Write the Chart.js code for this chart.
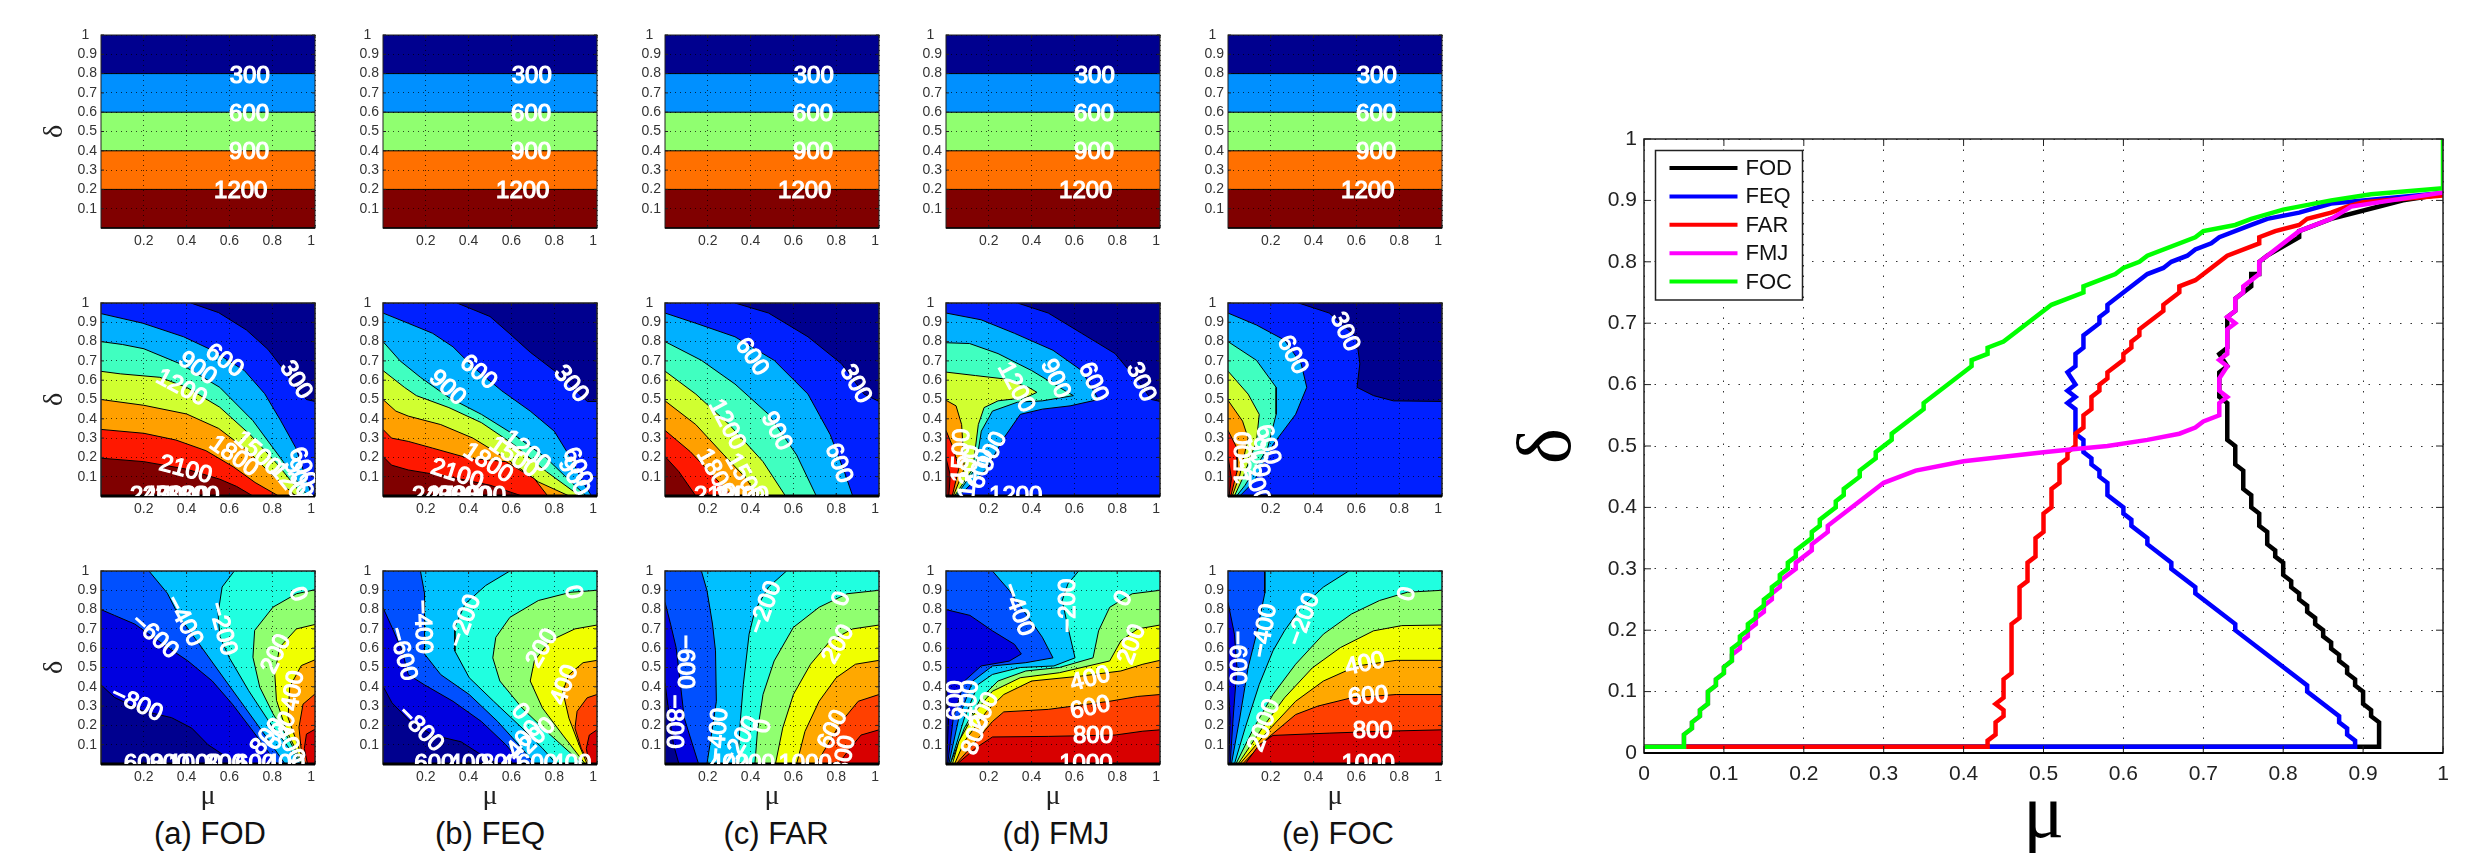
<!DOCTYPE html>
<html>
<head>
<meta charset="utf-8">
<script src="https://cdn.jsdelivr.net/npm/chart.js@4"></script>
<style>
  html, body { margin: 0; background: #fff; overflow: hidden; width: 2483px; height: 855px; }
  canvas { position: absolute; }
  .cap { position: absolute; top: 814px; width: 200px; text-align: center; font: 31px/40px "Liberation Sans"; color: #111; }
</style>
</head>
<body>
<script>
// ---------- tradeoff curves (right plot) ----------
const seriesNames = ["FOD", "FEQ", "FAR", "FMJ", "FOC"];
const seriesColors = ["#000000", "#0000ff", "#ff0000", "#ff00ff", "#00ff00"];
const mainTicks = [0, .1, .2, .3, .4, .5, .6, .7, .8, .9, 1];

const FOD = [[0,.01],[.92,.01],[.92,.05],[.91,.06],[.91,.07],[.90,.08],[.90,.10],[.89,.11],[.89,.12],[.88,.13],[.88,.14],[.87,.15],[.87,.16],[.86,.17],[.86,.18],[.85,.19],[.85,.20],[.84,.21],[.84,.22],[.83,.23],[.83,.24],[.82,.25],[.82,.26],[.81,.27],[.81,.28],[.80,.29],[.80,.31],[.79,.32],[.79,.33],[.78,.34],[.78,.36],[.77,.37],[.77,.39],[.76,.40],[.76,.42],[.75,.43],[.75,.46],[.74,.47],[.74,.50],[.73,.51],[.73,.57],[.72,.58],[.72,.62],[.73,.63],[.72,.65],[.73,.66],[.73,.71],[.74,.72],[.74,.74],[.76,.76],[.76,.78],[.77,.78],[.77,.80],[.78,.81],[.82,.84],[.82,.85],[.86,.87],[.92,.89],[.95,.90],[1,.91]];
const FEQ = [[0,.01],[.89,.01],[.89,.02],[.88,.03],[.88,.04],[.87,.05],[.87,.06],[.83,.10],[.83,.11],[.74,.20],[.74,.21],[.69,.26],[.69,.27],[.66,.30],[.66,.31],[.63,.34],[.63,.35],[.61,.37],[.61,.38],[.60,.39],[.60,.40],[.58,.42],[.58,.44],[.57,.45],[.57,.46],[.56,.47],[.56,.48],[.55,.49],[.55,.51],[.54,.52],[.54,.56],[.53,.57],[.54,.58],[.53,.59],[.54,.60],[.53,.62],[.54,.63],[.54,.65],[.55,.66],[.55,.68],[.57,.70],[.57,.71],[.58,.72],[.58,.73],[.63,.78],[.65,.79],[.66,.80],[.68,.81],[.69,.82],[.71,.83],[.72,.84],[.76,.86],[.78,.87],[.82,.88],[.86,.895],[.90,.90],[1,.912]];
const FAR = [[0,.01],[.43,.01],[.43,.02],[.44,.03],[.44,.05],[.45,.06],[.45,.07],[.44,.08],[.45,.09],[.45,.12],[.46,.13],[.46,.21],[.47,.22],[.47,.27],[.48,.28],[.48,.31],[.49,.32],[.49,.35],[.50,.36],[.50,.39],[.51,.40],[.51,.43],[.52,.44],[.52,.47],[.53,.48],[.53,.49],[.54,.50],[.54,.52],[.55,.53],[.55,.55],[.56,.56],[.56,.58],[.57,.59],[.57,.60],[.58,.61],[.58,.62],[.60,.64],[.60,.65],[.61,.66],[.61,.67],[.62,.68],[.62,.69],[.65,.72],[.65,.73],[.67,.75],[.67,.76],[.69,.77],[.73,.81],[.77,.83],[.77,.84],[.79,.85],[.82,.86],[.83,.87],[.86,.88],[.88,.89],[.90,.897],[1,.908]];
const FMJ = [[0,.01],[.05,.01],[.05,.03],[.06,.04],[.06,.05],[.07,.06],[.07,.07],[.08,.08],[.08,.10],[.09,.11],[.09,.12],[.10,.13],[.10,.14],[.11,.15],[.11,.16],[.12,.17],[.12,.18],[.13,.19],[.13,.20],[.14,.21],[.14,.22],[.15,.23],[.15,.24],[.16,.25],[.16,.26],[.17,.27],[.17,.28],[.19,.30],[.19,.31],[.21,.33],[.21,.34],[.23,.36],[.23,.37],[.30,.44],[.34,.46],[.40,.475],[.50,.49],[.54,.495],[.58,.50],[.63,.51],[.67,.52],[.69,.53],[.70,.54],[.72,.55],[.72,.57],[.73,.58],[.72,.59],[.72,.61],[.73,.63],[.72,.64],[.73,.65],[.73,.69],[.74,.70],[.73,.71],[.74,.72],[.74,.74],[.75,.75],[.75,.76],[.77,.78],[.77,.80],[.78,.81],[.82,.85],[.86,.87],[.885,.89],[.925,.898],[1,.913]];
const FOC = [[0,.01],[.05,.01],[.05,.03],[.06,.04],[.06,.05],[.07,.06],[.07,.07],[.08,.08],[.08,.10],[.09,.11],[.09,.12],[.10,.13],[.10,.14],[.11,.15],[.11,.17],[.12,.18],[.12,.19],[.13,.20],[.13,.21],[.14,.22],[.14,.23],[.15,.24],[.15,.25],[.16,.26],[.16,.27],[.17,.28],[.17,.29],[.18,.30],[.18,.31],[.19,.32],[.19,.33],[.21,.35],[.21,.36],[.22,.37],[.22,.38],[.24,.40],[.24,.41],[.25,.42],[.25,.43],[.27,.45],[.27,.46],[.29,.48],[.29,.49],[.31,.51],[.31,.52],[.35,.56],[.35,.57],[.41,.63],[.41,.64],[.43,.65],[.43,.66],[.45,.67],[.51,.73],[.55,.75],[.55,.76],[.59,.78],[.60,.79],[.62,.80],[.63,.81],[.69,.84],[.70,.85],[.74,.86],[.76,.87],[.80,.885],[.86,.90],[.91,.91],[1,.92],[1,1]];

// ---------- contour panels (left 3x5 grid) ----------
const smallXTicks = [.2, .4, .6, .8, 1];
const smallYTicks = [.1, .2, .3, .4, .5, .6, .7, .8, .9, 1];
const panelNames = ["(a) FOD", "(b) FEQ", "(c) FAR", "(d) FMJ", "(e) FOC"];

// top row: all five panels are the same
const row1Base = "#00008f";
const row1Colors = ["#0090ff", "#90ff70", "#ff7000", "#800000"];
const row1Lines = [[[0,.8],[1,.8]], [[0,.6],[1,.6]], [[0,.4],[1,.4]], [[0,.2],[1,.2]]];
const row1Labels = [[.695,.785,"300",0],[.692,.59,"600",0],[.692,.39,"900",0],[.653,.188,"1200",0]];

// middle row
const row2Base = "#00008f";
const row2Colors = ["#0020ff", "#00b0ff", "#40ffc0", "#d0ff30", "#ffa000", "#ff1800", "#800000"];
const row2FOD = [
  [[.42,1],[.55,.95],[.68,.86],[.78,.76],[.85,.66],[.91,.56],[.96,.5],[1,.49]],
  [[0,.945],[.196,.895],[.386,.825],[.52,.755],[.67,.65],[.765,.53],[.84,.39],[.91,.25],[.965,.07],[.985,0]],
  [[0,.8],[.1,.785],[.2,.763],[.37,.685],[.555,.563],[.71,.39],[.85,.18],[.965,0]],
  [[0,.646],[.09,.633],[.275,.615],[.4,.563],[.555,.46],[.695,.32],[.82,.17],[.945,0]],
  [[0,.5],[.2,.47],[.4,.425],[.55,.35],[.68,.24],[.78,.13],[.91,0]],
  [[0,.345],[.2,.325],[.35,.29],[.49,.235],[.62,.15],[.72,.07],[.83,0]],
  [[0,.196],[.2,.178],[.4,.139],[.555,.087],[.633,.05],[.71,0]],
];
const row2FEQ = [
  [[.346,1],[.5,.93],[.593,.84],[.688,.745],[.8,.65],[.916,.53],[.955,.49],[1,.49]],
  [[0,.948],[.118,.895],[.232,.843],[.327,.773],[.422,.668],[.555,.545],[.688,.44],[.8,.336],[.878,.196],[.935,.07],[.975,0]],
  [[0,.8],[.08,.7],[.175,.615],[.308,.51],[.46,.423],[.612,.318],[.764,.196],[.878,.073],[.95,0]],
  [[0,.65],[.1,.563],[.156,.52],[.308,.458],[.46,.38],[.612,.266],[.764,.126],[.92,0]],
  [[0,.5],[.06,.44],[.118,.414],[.27,.37],[.42,.3],[.574,.196],[.726,.073],[.87,0]],
  [[0,.345],[.04,.3],[.118,.283],[.232,.248],[.4,.196],[.574,.178],[.707,.09],[.77,0]],
  [[0,.205],[.04,.16],[.118,.135],[.308,.1],[.5,.056],[.65,0]],
];
const row2FAR = [
  [[.327,1],[.484,.948],[.668,.825],[.825,.685],[.93,.528],[1,.49]],
  [[0,.948],[.144,.895],[.327,.825],[.51,.703],[.668,.528],[.772,.318],[.838,.126],[.877,0]],
  [[0,.8],[.17,.703],[.327,.58],[.484,.423],[.615,.213],[.707,0]],
  [[0,.647],[.144,.528],[.3,.37],[.458,.178],[.563,0]],
  [[0,.493],[.144,.37],[.275,.213],[.38,.09],[.432,0]],
  [[0,.34],[.118,.23],[.222,.108],[.314,0]],
  [[0,.205],[.065,.126],[.144,0]],
];
const row2FMJ = [
  [[.334,1],[.478,.948],[.634,.843],[.79,.738],[.908,.58],[.96,.5],[1,.49]],
  [[0,.948],[.164,.913],[.32,.843],[.5,.755],[.634,.65],[.713,.5],[.58,.467],[.45,.45],[.347,.423],[.27,.3],[.19,.14],[.06,0]],
  [[0,.794],[.11,.79],[.243,.738],[.4,.65],[.53,.563],[.595,.52],[.45,.493],[.334,.486],[.217,.44],[.165,.336],[.138,.143],[.047,0]],
  [[0,.642],[.138,.624],[.27,.607],[.386,.563],[.425,.537],[.373,.51],[.243,.493],[.178,.458],[.151,.37],[.125,.14],[.04,0]],
  [[0,.496],[.047,.467],[.073,.37],[.086,.143],[.034,0]],
  [[0,.34],[.034,.248],[.06,.143],[.029,0]],
  [[0,.196],[.02,.108],[.013,0]],
];
const row2FOC = [
  [[.33,1],[.473,.948],[.6,.825],[.616,.685],[.603,.563],[.68,.52],[.773,.493],[1,.49]],
  [[0,.948],[.133,.886],[.264,.808],[.342,.685],[.368,.563],[.316,.423],[.21,.266],[.12,.073],[.055,0]],
  [[0,.8],[.133,.703],[.225,.563],[.225,.423],[.185,.248],[.08,.056],[.04,0]],
  [[0,.647],[.094,.528],[.146,.423],[.133,.283],[.068,.09],[.03,0]],
  [[0,.496],[.068,.388],[.094,.3],[.055,.108],[.02,0]],
  [[0,.34],[.042,.248],[.042,.126],[.013,0]],
  [[0,.205],[.016,.09],[.005,0]],
];
const row2Labels = [
  [[.91,.6,"300",58],[.576,.7,"600",35],[.45,.66,"900",35],[.375,.56,"1200",28],[.73,.22,"1500",42],[.62,.205,"1800",35],[.395,.135,"2100",15],[.94,.15,"600",70],[.92,.09,"900",65],[.89,.05,"1200",50],[.26,0,"2400",0],[.32,0,"2700",0],[.38,0,"3000",0],[.43,0,"3300",0]],
  [[.878,.58,"300",50],[.445,.64,"600",40],[.3,.56,"900",42],[.67,.23,"1200",38],[.61,.2,"1500",35],[.49,.17,"1800",33],[.346,.11,"2100",18],[.907,.15,"600",65],[.89,.1,"900",60],[.26,0,"2400",0],[.33,0,"2700",0],[.38,0,"3000",0],[.45,0,"3300",0]],
  [[.89,.58,"300",60],[.405,.72,"600",55],[.52,.335,"900",62],[.288,.37,"1200",62],[.81,.17,"600",70],[.37,.09,"1500",60],[.235,.115,"1800",60],[.26,0,"2100",0],[.36,0,"2400",0]],
  [[.91,.59,"300",65],[.687,.59,"600",65],[.51,.607,"900",65],[.326,.563,"1200",62],[.326,0,"1200",0],[.073,.21,"1500",-88],[.217,.23,"900",-65],[.165,.14,"600",-75],[.11,.126,"1200",-85]],
  [[.545,.85,"300",65],[.3,.73,"600",62],[.076,.195,"1500",-90],[.185,.266,"600",75],[.14,.2,"900",80],[.12,.09,"1200",70]],
];

// bottom row
const row3Base = "#20ffe0";
const row3Colors = ["#00c0ff", "#0050ff", "#0000e0", "#00008f", "#90ff70", "#f0ff00", "#ffa800", "#ff4000", "#d80000"];
const row3FOD = [
  [[.623,1],[.566,.917],[.547,.78],[.556,.66],[.6,.55],[.69,.38],[.785,.22],[.88,.08],[.937,0]],
  [[.224,1],[.31,.885],[.367,.76],[.46,.62],[.538,.5],[.652,.325],[.766,.15],[.86,0]],
  [[0,.8],[.063,.77],[.158,.725],[.29,.62],[.405,.535],[.52,.43],[.614,.31],[.71,.17],[.823,0]],
  [[0,.41],[.063,.345],[.196,.275],[.33,.24],[.424,.186],[.5,.1],[.595,.03],[.67,0]],
  [[1,.903],[.913,.882],[.804,.813],[.718,.692],[.71,.553],[.742,.398],[.804,.26],[.882,.12],[.936,0]],
  [[1,.723],[.913,.7],[.835,.605],[.812,.467],[.82,.33],[.866,.174],[.944,0]],
  [[1,.54],[.936,.51],[.882,.4],[.874,.24],[.913,.12],[.95,0]],
  [[1,.363],[.944,.31],[.925,.19],[.936,.07],[.956,0]],
  [[1,.18],[.96,.155],[.95,.08],[.965,0]],
];
const row3FEQ = [
  [[.593,1],[.48,.925],[.384,.83],[.336,.71],[.336,.585],[.403,.447],[.517,.325],[.65,.186],[.745,.082],[.81,0]],
  [[.175,1],[.194,.885],[.194,.69],[.194,.57],[.27,.463],[.403,.36],[.536,.22],[.65,.08],[.707,0]],
  [[0,.81],[.042,.708],[.09,.585],[.118,.463],[.194,.41],[.327,.325],[.46,.22],[.574,.1],[.65,0]],
  [[0,.403],[.042,.317],[.118,.23],[.232,.15],[.365,.115],[.46,.047],[.536,0]],
  [[1,.9],[.878,.89],[.726,.847],[.593,.76],[.527,.656],[.513,.55],[.546,.43],[.65,.29],[.764,.169],[.869,.064],[.935,0]],
  [[1,.72],[.897,.7],[.783,.64],[.707,.534],[.688,.43],[.745,.29],[.84,.15],[.945,0]],
  [[1,.537],[.935,.525],[.869,.463],[.84,.376],[.869,.237],[.916,.1],[.954,0]],
  [[1,.36],[.954,.343],[.907,.273],[.897,.186],[.926,.082],[.964,0]],
  [[1,.177],[.964,.15],[.95,.08],[.964,0]],
];
const row3FAR = [
  [[.568,1],[.484,.917],[.42,.795],[.393,.673],[.366,.412],[.353,.238],[.34,0]],
  [[.17,1],[.196,.9],[.222,.725],[.236,.586],[.24,.325],[.21,.1],[.196,0]],
  [[0,.838],[.026,.725],[.052,.603],[.065,.482],[.09,.238],[.157,0]],
  [[0,.42],[.02,.25],[.04,.1],[.065,0]],
  [[1,.9],[.85,.882],[.72,.812],[.6,.708],[.51,.534],[.458,.36],[.432,.169],[.42,0]],
  [[1,.72],[.877,.7],[.772,.638],[.68,.517],[.6,.36],[.55,.186],[.516,0]],
  [[1,.537],[.89,.517],[.8,.447],[.72,.325],[.654,.169],[.615,0]],
  [[1,.36],[.903,.325],[.825,.22],[.76,.1],[.707,0]],
  [[1,.177],[.916,.15],[.864,.08],[.81,0]],
];
const row3FMJ = [
  [[.62,1],[.57,.934],[.543,.847],[.57,.708],[.603,.55],[.504,.508],[.347,.5],[.217,.464],[.15,.412],[.086,.238],[.02,0]],
  [[.217,1],[.295,.9],[.373,.778],[.45,.657],[.5,.55],[.373,.525],[.217,.508],[.125,.43],[.06,.238],[.013,0]],
  [[0,.8],[.112,.77],[.217,.69],[.32,.62],[.352,.57],[.295,.533],[.164,.508],[.086,.43],[.034,.238],[.008,0]],
  [[0,.42],[.012,.238],[.003,0]],
  [[1,.9],[.87,.882],[.765,.812],[.713,.69],[.687,.55],[.53,.5],[.373,.482],[.243,.43],[.164,.343],[.086,.186],[.02,0]],
  [[1,.72],[.896,.7],[.817,.638],[.765,.534],[.53,.473],[.347,.447],[.217,.377],[.138,.273],[.06,.117],[.03,0]],
  [[1,.537],[.92,.517],[.817,.482],[.634,.456],[.4,.43],[.27,.36],[.19,.273],[.086,.117],[.04,0]],
  [[1,.36],[.896,.35],[.765,.325],[.478,.283],[.27,.27],[.217,.22],[.112,.082],[.047,0]],
  [[1,.177],[.92,.17],[.79,.15],[.478,.143],[.217,.14],[.138,.082],[.052,0]],
];
const row3FOC = [
  [[.564,1],[.446,.917],[.342,.812],[.264,.69],[.21,.586],[.146,.412],[.08,.186],[.03,0]],
  [[.172,1],[.172,.885],[.133,.673],[.094,.5],[.055,.238],[.016,0]],
  [[0,.838],[.03,.673],[.042,.5],[.024,.238],[.01,0]],
  [[0,.42],[.01,.238],[.004,0]],
  [[1,.9],[.838,.89],[.708,.847],[.577,.777],[.446,.673],[.316,.517],[.21,.36],[.12,.186],[.037,0]],
  [[1,.72],[.812,.717],[.68,.69],[.525,.603],[.394,.498],[.264,.343],[.16,.186],[.047,0]],
  [[1,.537],[.786,.537],[.603,.508],[.446,.43],[.316,.325],[.185,.169],[.055,0]],
  [[1,.36],[.786,.36],[.577,.343],[.42,.3],[.316,.256],[.185,.134],[.068,0]],
  [[1,.177],[.734,.17],[.473,.16],[.21,.148],[.146,.1],[.08,0]],
];
const row3Labels = [
  [[.918,.88,"0",70],[.386,.74,"−400",62],[.566,.7,"−200",75],[.25,.66,"−600",42],[.167,.31,"−800",25],[.82,.57,"200",-65],[.9,.38,"400",-80],[.78,.14,"800",-50],[.84,.17,"600",-60],[.88,.1,"400",65],[.2,0,"600",0],[.32,0,"800",0],[.44,0,"1000",0],[.58,0,"800",0],[.72,0,"600",0],[.86,0,"400",0]],
  [[.888,.89,"0",80],[.184,.71,"−400",88],[.384,.74,"−200",-70],[.09,.57,"−600",75],[.175,.18,"−800",45],[.745,.6,"200",-60],[.85,.41,"400",-70],[.64,.27,"0",50],[.7,.12,"−200",-45],[.64,.1,"−400",-50],[.24,0,"600",0],[.4,0,"400",0],[.55,0,"800",0],[.72,0,"600",0],[.88,0,"400",0]],
  [[.825,.855,"0",-70],[.47,.81,"−200",-70],[.81,.62,"200",-60],[.09,.53,"−600",90],[.04,.22,"−800",90],[.25,.15,"−400",-85],[.353,.115,"−200",-60],[.458,.195,"0",-80],[.785,.177,"600",-65],[.84,.045,"800",-80],[.655,0,"1000",0],[.3,0,"400",0],[.42,0,"200",0]],
  [[.83,.855,"0",-60],[.334,.8,"−400",70],[.57,.82,"−200",-90],[.87,.62,"200",-70],[.674,.44,"400",-15],[.674,.29,"600",-12],[.687,.143,"800",0],[.654,0,"1000",0],[.05,.33,"600",-90],[.11,.33,"400",-85],[.18,.27,"200",-65],[.14,.15,"800",-70]],
  [[.838,.88,"0",-75],[.172,.69,"−400",-80],[.355,.75,"−200",-70],[.04,.55,"−600",90],[.64,.517,"400",-12],[.655,.35,"600",-5],[.676,.17,"800",0],[.655,0,"1000",0],[.17,.2,"2000",-70]],
];

// ---------- layout of the page ----------
const colLeft = [101, 383, 665, 946, 1228];
const rowTop = [35, 303, 571];
const capCenter = [210, 490, 776, 1056, 1338];
const PW = 214, PH = 193, YW = 60, PAD = 12;

const pts = a => a.map(([x, y]) => ({ x, y }));
const tickText = v => (v === 1 ? "1  " : String(Number(v.toFixed(1))));

// scales must not grow the padding for their end labels, the plot boxes are fixed
const noPad = s => { s.paddingTop = s.paddingBottom = s.paddingLeft = s.paddingRight = 0; };

// fills the region behind a contour line, the line's own points plus closing corners
const bandPlugin = {
  id: "bands",
  beforeDatasetsDraw(chart) {
    const base = chart.config.options.baseFill;
    const a = chart.chartArea;
    if (base) { chart.ctx.fillStyle = base; chart.ctx.fillRect(a.left, a.top, a.width, a.height); }
  },
  beforeDatasetDraw(chart, args) {
    const ds = chart.data.datasets[args.index];
    if (!ds.bandFill) return;
    const ctx = chart.ctx, a = chart.chartArea;
    ctx.save();
    ctx.beginPath();
    ctx.rect(a.left, a.top, a.width, a.height);
    ctx.clip();
    ctx.beginPath();
    args.meta.data.forEach((p, i) => (i ? ctx.lineTo(p.x, p.y) : ctx.moveTo(p.x, p.y)));
    ds.closeTo.forEach(([x, y]) => ctx.lineTo(chart.scales.x.getPixelForValue(x), chart.scales.y.getPixelForValue(y)));
    ctx.closePath();
    ctx.fillStyle = ds.bandFill;
    ctx.fill();
    ctx.restore();
  },
};
Chart.register(bandPlugin);

// box with inward ticks on all four sides, MATLAB style
function framePlugin(tickLen, color, width, edgeWidth) {
  return {
    id: "frame",
    afterDraw(chart) {
      const ctx = chart.ctx, a = chart.chartArea, { x, y } = chart.scales;
      ctx.save();
      ctx.strokeStyle = color;
      ctx.lineWidth = 1;
      ctx.beginPath();
      x.ticks.forEach(t => {
        const px = x.getPixelForValue(t.value);
        ctx.moveTo(px, a.bottom); ctx.lineTo(px, a.bottom - tickLen);
        ctx.moveTo(px, a.top); ctx.lineTo(px, a.top + tickLen);
      });
      y.ticks.forEach(t => {
        const py = y.getPixelForValue(t.value);
        ctx.moveTo(a.left, py); ctx.lineTo(a.left + tickLen, py);
        ctx.moveTo(a.right, py); ctx.lineTo(a.right - tickLen, py);
      });
      ctx.stroke();
      ctx.lineWidth = width;
      ctx.strokeRect(a.left, a.top, a.width, a.height);
      if (edgeWidth) {
        ctx.strokeStyle = "#000";
        ctx.lineWidth = edgeWidth;
        ctx.beginPath();
        ctx.moveTo(a.left, a.bottom); ctx.lineTo(a.right, a.bottom);
        ctx.stroke();
      }
      ctx.restore();
    },
  };
}

// contour labels, white text placed through the scales and clipped to the plot
function labelPlugin(list) {
  return {
    id: "contourLabels",
    afterDraw(chart) {
      const ctx = chart.ctx, a = chart.chartArea, { x, y } = chart.scales;
      ctx.save();
      ctx.beginPath();
      ctx.rect(a.left, a.top, a.width, a.height);
      ctx.clip();
      ctx.font = '24px "Liberation Sans"';
      ctx.textAlign = "center";
      ctx.textBaseline = "middle";
      ctx.fillStyle = "#fff";
      ctx.strokeStyle = "#fff";
      ctx.lineWidth = 1.2;
      list.forEach(([lx, ly, text, deg]) => {
        ctx.save();
        ctx.translate(x.getPixelForValue(lx), y.getPixelForValue(ly));
        ctx.rotate(deg * Math.PI / 180);
        ctx.fillText(text, 0, 0);
        ctx.strokeText(text, 0, 0);
        ctx.restore();
      });
      ctx.restore();
    },
  };
}

function addCanvas(left, top, w, h) {
  const c = document.createElement("canvas");
  c.width = w; c.height = h;
  c.style.left = left + "px"; c.style.top = top + "px";
  c.style.width = w + "px"; c.style.height = h + "px";
  document.body.appendChild(c);
  return c;
}

function drawPanel(col, row, base, colors, lines, closes, labels) {
  const xH = row === 2 ? 47 : 30;
  const c = addCanvas(colLeft[col] - YW, rowTop[row] - 10, YW + PW + PAD, 10 + PH + xH);
  const n = lines.length;
  const scaleCommon = {
    type: "linear", min: 0, max: 1,
    grid: { z: 1, color: "rgba(0,0,0,.7)", lineWidth: 1, drawTicks: false },
    border: { display: false, dash: [1, 4] },
  };
  new Chart(c, {
    type: "scatter",
    data: {
      datasets: lines.map((line, i) => ({
        data: pts(line),
        showLine: true,
        borderColor: "#000",
        borderWidth: 1,
        pointRadius: 0,
        bandFill: colors[i],
        closeTo: closes[i],
        order: n - i,
      })),
    },
    options: {
      baseFill: base,
      responsive: false,
      animation: false,
      devicePixelRatio: 1,
      layout: { autoPadding: false, padding: { top: 10, right: PAD, left: 0, bottom: 0 } },
      plugins: { legend: { display: false }, tooltip: { enabled: false } },
      scales: {
        x: {
          ...scaleCommon,
          afterBuildTicks: s => { s.ticks = smallXTicks.map(value => ({ value })); },
          afterFit: s => { s.height = xH; noPad(s); },
          ticks: { autoSkip: false, maxRotation: 0, padding: 5, color: "#333", font: { family: "Liberation Sans", size: 14 }, callback: tickText },
          title: { display: row === 2, text: "μ", color: "#222", padding: 0, font: { family: "Liberation Serif", size: 28, lineHeight: 1 } },
        },
        y: {
          ...scaleCommon,
          afterBuildTicks: s => { s.ticks = smallYTicks.map(value => ({ value })); },
          afterFit: s => { s.width = YW; noPad(s); },
          ticks: { autoSkip: false, padding: 4, color: "#333", font: { family: "Liberation Sans", size: 14 }, callback: tickText },
          title: { display: col === 0, text: "δ", color: "#222", padding: 0, font: { family: "Liberation Serif", size: 28, lineHeight: 1 } },
        },
      },
    },
    plugins: [framePlugin(3, "#222", row === 0 ? 1 : 1.5, row === 0 ? 1.5 : 3), labelPlugin(labels)],
  });
}

const row1Closes = row1Lines.map(() => [[1, 0], [0, 0]]);
const row2Closes = row2Colors.map((_, i) => (i === 0 ? [[1, 0], [0, 0], [0, 1]] : [[0, 0]]));
const row3Closes = row3Colors.map((_, i) => (i < 2 ? [[0, 0], [0, 1]] : i < 4 ? [[0, 0]] : [[1, 0]]));

colLeft.forEach((_, col) => drawPanel(col, 0, row1Base, row1Colors, row1Lines, row1Closes, row1Labels));
[row2FOD, row2FEQ, row2FAR, row2FMJ, row2FOC].forEach((lines, col) =>
  drawPanel(col, 1, row2Base, row2Colors, lines, row2Closes, row2Labels[col]));
[row3FOD, row3FEQ, row3FAR, row3FMJ, row3FOC].forEach((lines, col) =>
  drawPanel(col, 2, row3Base, row3Colors, lines, row3Closes, row3Labels[col]));

panelNames.forEach((name, i) => {
  const d = document.createElement("div");
  d.className = "cap";
  d.textContent = name;
  d.style.left = capCenter[i] - 100 + "px";
  document.body.appendChild(d);
});

// ---------- right plot ----------
const legendPlugin = {
  id: "boxLegend",
  afterDraw(chart) {
    const ctx = chart.ctx, a = chart.chartArea;
    const left = a.left + 11.5, top = a.top + 11.5, w = 147, h = 149.5;
    ctx.save();
    ctx.fillStyle = "#fff";
    ctx.fillRect(left, top, w, h);
    ctx.strokeStyle = "#222";
    ctx.lineWidth = 1.5;
    ctx.strokeRect(left, top, w, h);
    ctx.font = '22px "Liberation Sans"';
    ctx.textBaseline = "middle";
    chart.data.datasets.forEach((ds, i) => {
      const y = top + 17.5 + i * 28.4;
      ctx.strokeStyle = ds.borderColor;
      ctx.lineWidth = 4;
      ctx.beginPath();
      ctx.moveTo(left + 14, y);
      ctx.lineTo(left + 82, y);
      ctx.stroke();
      ctx.fillStyle = "#111";
      ctx.fillText(ds.label, left + 90, y + 1);
    });
    ctx.restore();
  },
};

const mainCanvas = addCanvas(1500, 129, 983, 726);
const mainScale = {
  type: "linear", min: 0, max: 1,
  grid: { color: "#333", lineWidth: 1, drawTicks: false },
  border: { display: false, dash: [1.5, 9] },
};
new Chart(mainCanvas, {
  type: "scatter",
  data: {
    datasets: [FOD, FEQ, FAR, FMJ, FOC].map((line, i) => ({
      label: seriesNames[i],
      data: pts(line),
      showLine: true,
      borderColor: seriesColors[i],
      borderWidth: 4.5,
      borderJoinStyle: "miter",
      pointRadius: 0,
      order: 4 - i,
    })),
  },
  options: {
    responsive: false,
    animation: false,
    devicePixelRatio: 1,
    layout: { autoPadding: false, padding: { top: 10, right: 40, left: 0, bottom: 0 } },
    plugins: { legend: { display: false }, tooltip: { enabled: false } },
    scales: {
      x: {
        ...mainScale,
        afterBuildTicks: s => { s.ticks = mainTicks.map(value => ({ value })); },
        afterFit: s => { s.height = 102; noPad(s); },
        ticks: { autoSkip: false, maxRotation: 0, padding: 9, color: "#222", font: { family: "Liberation Sans", size: 21 }, callback: v => String(Number(v.toFixed(1))) },
        title: { display: true, text: "μ", color: "#000", padding: 0, font: { family: "Liberation Serif", size: 76, lineHeight: 1 } },
      },
      y: {
        ...mainScale,
        afterBuildTicks: s => { s.ticks = mainTicks.map(value => ({ value })); },
        afterFit: s => { s.width = 144; noPad(s); },
        ticks: { autoSkip: false, padding: 7, color: "#222", font: { family: "Liberation Sans", size: 21 }, callback: v => String(Number(v.toFixed(1))) },
        title: { display: true, text: "δ", color: "#000", padding: 12, font: { family: "Liberation Serif", size: 76, lineHeight: 1 } },
      },
    },
  },
  plugins: [framePlugin(7, "#222", 1.5, 2), legendPlugin],
});
</script>
</body>
</html>
